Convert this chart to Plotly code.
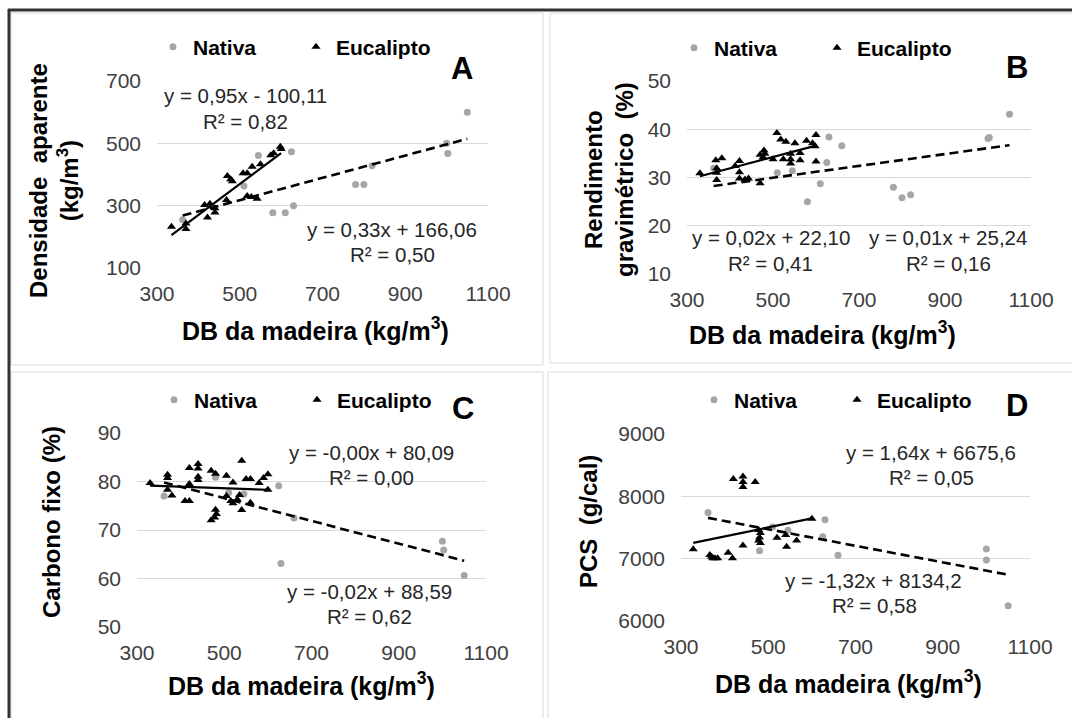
import numpy as np
import plotly.graph_objects as go

W, H = 1072, 718
FONT = "Liberation Sans, Arial, sans-serif"
GRAY = "#a6a6a6"

# ---------------- data ----------------
# Panel A: Densidade aparente
a_nat_x = [362, 510, 545, 580, 610, 625, 630, 780, 800, 820, 1000, 1003, 1050]
a_nat_y = [255, 363, 461, 277, 277, 473, 300, 368, 368, 428, 500, 467, 600]
a_euc_x = [335, 370, 370, 422, 440, 440, 415, 428, 470, 478, 482, 508, 518, 530, 550, 575, 582, 598, 600, 468, 518, 528, 542]
a_euc_y = [232, 243, 225, 262, 278, 292, 302, 306, 395, 385, 378, 404, 404, 425, 433, 462, 468, 489, 482, 318, 331, 328, 322]

# Panel B: Rendimento gravimetrico
b_nat_x = [362, 510, 545, 580, 610, 625, 630, 660, 780, 800, 820, 1000, 1003, 1050]
b_nat_y = [31.9, 31.0, 31.4, 25.0, 28.7, 33.1, 38.4, 36.6, 28.0, 25.8, 26.4, 38.1, 38.3, 43.1]
b_euc_x = [330, 369, 369, 367, 381, 369, 412, 422, 422, 422, 435, 443, 470, 470, 479, 481, 477, 500, 509, 518,
           530, 524, 541, 541, 541, 551, 563, 563, 578, 592, 598, 600, 600]
b_euc_y = [30.9, 31.9, 31.0, 33.6, 34.0, 29.5, 32.4, 33.4, 31.1, 29.8, 29.6, 29.8, 28.8, 34.7, 35.6, 34.9, 34.2, 33.8,
           39.2, 37.9, 37.4, 33.8, 34.9, 33.8, 32.9, 37.1, 35.1, 33.6, 37.6, 37.1, 36.5, 38.8, 33.3]

# Panel C: Carbono fixo
c_nat_x = [362, 480, 510, 545, 625, 630, 660, 1000, 1003, 1050]
c_nat_y = [77.0, 80.9, 77.7, 77.4, 79.1, 63.1, 72.5, 67.7, 65.9, 60.6]
c_euc_x = [330, 370, 370, 370, 380, 410, 420, 420, 420, 440, 440, 440, 440, 470, 480, 505, 520, 540, 550, 560, 580,
           590, 600, 600, 505, 515, 520, 530, 535, 540, 560, 470, 478, 482, 480]
c_euc_y = [79.7, 81.4, 80.7, 78.3, 77.1, 76.0, 76.0, 82.8, 79.5, 83.6, 82.7, 81.0, 80.3, 82.2, 81.6, 81.2, 79.8, 84.3,
           80.5, 80.5, 79.7, 80.7, 81.5, 78.3, 77.0, 76.0, 75.5, 76.3, 77.2, 74.1, 75.6, 72.0, 72.6, 73.3, 74.2]

# Panel D: PCS
d_nat_x = [362, 480, 510, 545, 625, 630, 660, 1000, 1000, 1050]
d_nat_y = [7740, 7128, 7510, 7455, 7353, 7626, 7054, 7156, 6979, 6246]
d_euc_x = [328, 366, 370, 373, 378, 384, 408, 418, 420, 442, 442, 442, 470, 442, 478, 482, 480, 478, 482, 520, 540,
           542, 565, 600]
d_euc_y = [7151, 7059, 7032, 7006, 7006, 7006, 7096, 7006, 8280, 8320, 8230, 8150, 8230, 7210, 7460, 7410, 7340, 7290,
           7250, 7335, 7380, 7190, 7290, 7640]

x_ticks = [300, 500, 700, 900, 1100]
a_ticks = [100, 300, 500, 700]
b_ticks = [10, 20, 30, 40, 50]
c_ticks = [50, 60, 70, 80, 90]
d_ticks = [6000, 7000, 8000, 9000]
series_names = ["Nativa", "Eucalipto"]
x_title = "DB da madeira (kg/m<sup>3</sup>)"


# ---------------- layout helpers (window pixel -> paper) ----------------
def px(x):
    return x / W


def py(y):
    return 1 - y / H


panels = [
    dict(key="", nat=(a_nat_x, a_nat_y), euc=(a_euc_x, a_euc_y), yt=a_ticks,
         dx=(157, 488), dy=(81, 268), legend="legend", leg=(176, 47)),
    dict(key="2", nat=(b_nat_x, b_nat_y), euc=(b_euc_x, b_euc_y), yt=b_ticks,
         dx=(687, 1031), dy=(81, 274), legend="legend2", leg=(697, 48)),
    dict(key="3", nat=(c_nat_x, c_nat_y), euc=(c_euc_x, c_euc_y), yt=c_ticks,
         dx=(137, 486), dy=(433, 627), legend="legend3", leg=(177, 400)),
    dict(key="4", nat=(d_nat_x, d_nat_y), euc=(d_euc_x, d_euc_y), yt=d_ticks,
         dx=(681, 1030), dy=(434, 621), legend="legend4", leg=(717, 400)),
]

fig = go.Figure()
layout = dict(
    width=W, height=H, margin=dict(l=0, r=0, t=0, b=0, pad=0, autoexpand=False), autosize=False,
    paper_bgcolor="white", plot_bgcolor="white",
    font=dict(family=FONT, color="#404040"),
    showlegend=True,
)

for p in panels:
    k = p["key"]
    xa, ya = "x" + k, "y" + k
    nx, ny = p["nat"]
    ex, ey = p["euc"]
    fig.add_trace(go.Scatter(x=nx, y=ny, mode="markers", name=series_names[0], xaxis=xa, yaxis=ya,
                             legend=p["legend"],
                             marker=dict(symbol="circle", size=7, color=GRAY)))
    fig.add_trace(go.Scatter(x=ex, y=ey, mode="markers", name=series_names[1], xaxis=xa, yaxis=ya,
                             legend=p["legend"],
                             marker=dict(symbol="triangle-up", size=8, color="black")))
    # linear trendlines fitted from the data
    for (sx, sy), dash, lw in (((ex, ey), "solid", 2.2), ((nx, ny), "9px,5px", 2.6)):
        m, b = np.polyfit(sx, sy, 1)
        lx = np.array([min(sx), max(sx)], dtype=float)
        fig.add_trace(go.Scatter(x=lx, y=m * lx + b, mode="lines", showlegend=False, xaxis=xa, yaxis=ya,
                                 line=dict(color="black", width=lw, dash=dash), hoverinfo="skip"))
    yt = p["yt"]
    layout["xaxis" + k] = dict(domain=[px(p["dx"][0]), px(p["dx"][1])], range=[300, 1100], tickvals=x_ticks,
                               showgrid=False, zeroline=False, showline=False, ticks="", automargin=False,
                               tickfont=dict(size=21, color="#404040"), ticklabelstandoff=11,
                               anchor=ya, fixedrange=True)
    layout["yaxis" + k] = dict(domain=[py(p["dy"][1]), py(p["dy"][0])], range=[yt[0], yt[-1]], tickvals=yt,
                               showgrid=True, gridcolor="#d9d9d9", gridwidth=1.3, zeroline=False,
                               showline=False, ticks="", tickfont=dict(size=21, color="#404040"),
                               automargin=False, ticklabelstandoff=15, anchor=xa, fixedrange=True)
    layout[p["legend"]] = dict(orientation="h", x=px(p["leg"][0] - 23), y=py(p["leg"][1]),
                               xanchor="left", yanchor="middle", entrywidth=98,
                               font=dict(family=FONT, size=21, color="black", weight="bold"),
                               bgcolor="rgba(0,0,0,0)")

annotations = []


def ann(text, x, y, size, bold=False, angle=0, color="#262626"):
    annotations.append(dict(text=text, x=px(x), y=py(y), xref="paper", yref="paper", showarrow=False,
                            xanchor="center", yanchor="middle", textangle=angle,
                            font=dict(family=FONT, size=size, color=color, weight="bold" if bold else "normal")))


# axis titles
ann("Densidade  aparente<br>(kg/m<sup>3</sup>)", 54, 181, 24, True, -90, "black")
ann("Rendimento<br>gravimétrico  (%)", 609, 180, 24, True, -90, "black")
ann("Carbono fixo (%)", 51, 522, 24, True, -90, "black")
ann("PCS  (g/cal)", 588, 522, 24, True, -90, "black")
ann(x_title, 315, 329, 25, True, 0, "black")
ann(x_title, 822, 333, 25, True, 0, "black")
ann(x_title, 301, 684, 25, True, 0, "black")
ann(x_title, 848, 682, 25, True, 0, "black")
# panel letters
ann("A", 462, 68, 31, True, 0, "black")
ann("B", 1017, 67, 31, True, 0, "black")
ann("C", 463, 409, 31, True, 0, "black")
ann("D", 1017, 405, 31, True, 0, "black")
# trendline equations
eqs = [
    ("y = 0,95x - 100,11", 245, 96), ("R² = 0,82", 245, 121),
    ("y = 0,33x + 166,06", 392, 229), ("R² = 0,50", 392, 254),
    ("y = 0,02x + 22,10", 771, 237), ("R² = 0,41", 770, 263),
    ("y = 0,01x + 25,24", 948, 237), ("R² = 0,16", 948, 263),
    ("y = -0,00x + 80,09", 371, 452), ("R² = 0,00", 371, 477),
    ("y = -0,02x + 88,59", 369, 591), ("R² = 0,62", 369, 616),
    ("y = 1,64x + 6675,6", 931, 452), ("R² = 0,05", 931, 477),
    ("y = -1,32x + 8134,2", 873, 580), ("R² = 0,58", 874, 605),
]
for t, x, y in eqs:
    ann(t, x, y, 20.5)

layout["annotations"] = annotations

# panel frames
shapes = []


def rect(x0, y0, x1, y1, color, w):
    shapes.append(dict(type="rect", xref="paper", yref="paper", x0=px(x0), x1=px(x1), y0=py(y1), y1=py(y0),
                       line=dict(color=color, width=w), fillcolor="rgba(0,0,0,0)", layer="below"))


def line(x0, y0, x1, y1, color, w):
    shapes.append(dict(type="line", xref="paper", yref="paper", x0=px(x0), x1=px(x1), y0=py(y0), y1=py(y1),
                       line=dict(color=color, width=w)))


rect(11, 13, 543, 365, "#d9d9d9", 1)
rect(550, 13, 1090, 363, "#d9d9d9", 1)
rect(11, 372, 543, 740, "#d9d9d9", 1)
rect(548, 372, 1090, 740, "#d9d9d9", 1)
line(8, 10, 1072, 10, "#333333", 3)
line(9, 9, 9, 718, "#333333", 3)
layout["shapes"] = shapes

fig.update_layout(**layout)
# pin the figure to the window corner so the page never grows beyond the viewport
post = ("document.body.style.margin='0';document.body.style.overflow='hidden';"
        "var d=document.getElementById('{plot_id}');d.style.position='fixed';"
        "d.style.left='0px';d.style.top='0px';")
fig.write_html("out.html", config={"displayModeBar": False, "responsive": False}, post_script=post)
